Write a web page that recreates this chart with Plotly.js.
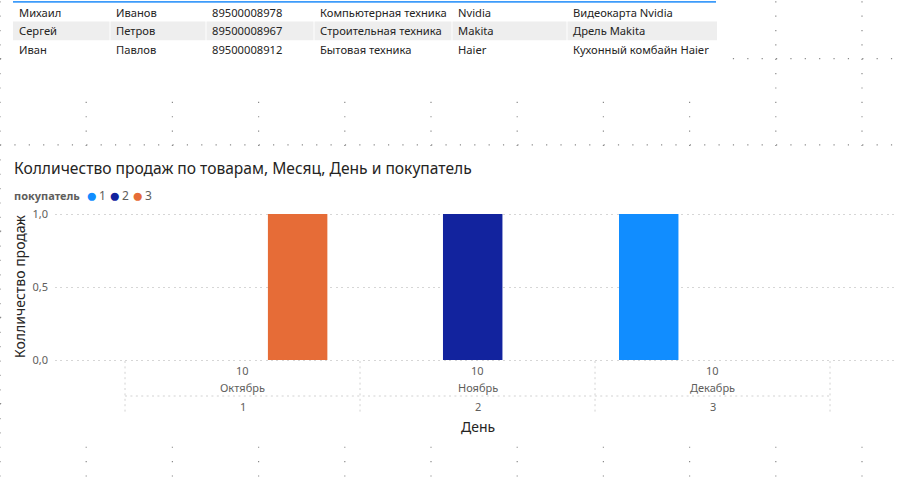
<!DOCTYPE html>
<html>
<head>
<meta charset="utf-8">
<script src="https://cdn.plot.ly/plotly-3.0.1.min.js"></script>
<style>
  html, body { margin: 0; padding: 0; background: #ffffff; }
  #chart { width: 897px; height: 482px; }
</style>
</head>
<body>
<div id="chart"></div>
<script>
// ---------- data ----------
const buyers = ['1', '2', '3'];
const buyerColors = ['#118DFF', '#12239E', '#E66C37'];
const dayLabels = ['10', '10', '10'];
const monthLabels = ['Октябрь', 'Ноябрь', 'Декабрь'];
const groupLabels = ['1', '2', '3'];
const salesBuyer1 = [null, null, 1];
const salesBuyer2 = [null, 1, null];
const salesBuyer3 = [1, null, null];
const yTickVals = [0, 0.5, 1];
const yTickText = ['0,0', '0,5', '1,0'];

const tableFirstNames = ['Михаил', 'Сергей', 'Иван'];
const tableLastNames = ['Иванов', 'Петров', 'Павлов'];
const tablePhones = ['89500008978', '89500008967', '89500008912'];
const tableCategories = ['Компьютерная техника', 'Строительная техника', 'Бытовая техника'];
const tableBrands = ['Nvidia', 'Makita', 'Haier'];
const tableProducts = ['Видеокарта Nvidia', 'Дрель Makita', 'Кухонный комбайн Haier'];

const chartTitle = 'Колличество продаж по товарам, Месяц, День и покупатель';
const legendTitle = 'покупатель';
const yTitle = 'Колличество продаж';
const xTitle = 'День';

// ---------- helpers ----------
const W = 897, H = 482;
const px = v => v / W;
const py = v => 1 - v / H;
const FONT = '"Segoe UI", "Noto Sans", sans-serif';

const xCats = monthLabels.map((_, i) => i + 1);
const seriesVals = [salesBuyer1, salesBuyer2, salesBuyer3];
const barWidth = 0.253;
const barOffsets = [-0.398, -0.147, 0.108];

const traces = seriesVals.map((vals, i) => ({
  type: 'bar',
  name: buyers[i],
  x: xCats,
  y: vals,
  width: barWidth,
  offset: barOffsets[i],
  marker: { color: buyerColors[i] },
  showlegend: false,
  hoverinfo: 'x+y+name'
}));

const shapes = [];
const annotations = [];

// ---------- background canvas dots ----------
const gridStep = 86.2;
const dotDash = '1.2px,' + (gridStep / 6 - 1.2).toFixed(2) + 'px';
for (let k = 0; k * gridStep <= W; k++) {
  shapes.push({ type: 'line', xref: 'paper', yref: 'paper', layer: 'below',
    x0: px(k * gridStep), x1: px(k * gridStep), y0: py(1.2), y1: 0,
    line: { color: '#8A8A8A', width: 1.2, dash: dotDash } });
}
for (let yy = 58.7; yy < H; yy += gridStep) {
  shapes.push({ type: 'line', xref: 'paper', yref: 'paper', layer: 'below',
    x0: 0, x1: 1, y0: py(yy), y1: py(yy),
    line: { color: '#8A8A8A', width: 1.2, dash: dotDash } });
}
// visual containers (white)
shapes.push({ type: 'rect', xref: 'paper', yref: 'paper', layer: 'below',
  x0: px(3), x1: px(728), y0: py(95), y1: py(0), fillcolor: '#FFFFFF', line: { width: 0 } });
shapes.push({ type: 'rect', xref: 'paper', yref: 'paper', layer: 'below',
  x0: px(3), x1: 1, y0: py(440), y1: py(150), fillcolor: '#FFFFFF', line: { width: 0 } });

// ---------- table ----------
const tableColumns = [tableFirstNames, tableLastNames, tablePhones, tableCategories, tableBrands, tableProducts];
const colLeft = [13, 110, 206, 314, 452, 567, 717];
const textPad = 4;
const rowTop = 3, rowH = 18.6;
tableFirstNames.forEach((_, r) => {
  if (r % 2 === 1) {
    for (let c = 0; c < tableColumns.length; c++) {
      shapes.push({ type: 'rect', xref: 'paper', yref: 'paper', layer: 'below',
        x0: px(colLeft[c] + (c ? 0.5 : 0)), x1: px(colLeft[c + 1] - (c < tableColumns.length - 1 ? 0.5 : 0)),
        y0: py(rowTop + (r + 1) * rowH), y1: py(rowTop + r * rowH),
        fillcolor: '#EEEEEE', line: { width: 0 } });
    }
  }
  tableColumns.forEach((col, c) => {
    annotations.push({ xref: 'paper', yref: 'paper', x: px(colLeft[c] + textPad), y: py(rowTop + (r + 0.5) * rowH),
      xanchor: 'left', yanchor: 'middle', text: col[r], showarrow: false,
      font: { family: FONT, size: 11.2, color: '#252423' } });
  });
});
shapes.push({ type: 'line', xref: 'paper', yref: 'paper',
  x0: px(13), x1: px(716), y0: py(1.8), y1: py(1.8),
  line: { color: '#3D9BFA', width: 1.8 } });

// hierarchical x-axis separators
const sepDash = '2px,3.4px';
const sepColor = '#D2D2D2';
for (let i = 0; i <= xCats.length; i++) {
  shapes.push({ type: 'line', xref: 'x', yref: 'paper',
    x0: i + 0.5, x1: i + 0.5, y0: py(361), y1: py(415),
    line: { color: sepColor, width: 1, dash: sepDash } });
}
shapes.push({ type: 'line', xref: 'x', yref: 'paper',
  x0: 0.5, x1: xCats.length + 0.5, y0: py(396), y1: py(396),
  line: { color: sepColor, width: 1, dash: sepDash } });

// ---------- chart annotations ----------
annotations.push({ xref: 'paper', yref: 'paper', x: px(12), y: py(168), xanchor: 'left', yanchor: 'middle',
  text: chartTitle, showarrow: false, font: { family: FONT, size: 15.6, color: '#252423' } });
annotations.push({ xref: 'paper', yref: 'paper', x: px(12), y: py(195), xanchor: 'left', yanchor: 'middle',
  text: '<b>' + legendTitle + '</b>', showarrow: false, font: { family: FONT, size: 11, color: '#605E5C' } });
buyers.forEach((b, i) => {
  annotations.push({ xref: 'paper', yref: 'paper', x: px(91.5 + i * 23), y: py(194.5), xanchor: 'center', yanchor: 'middle',
    text: '●', showarrow: false, font: { family: FONT, size: 19, color: buyerColors[i] } });
  annotations.push({ xref: 'paper', yref: 'paper', x: px(97 + i * 23), y: py(195), xanchor: 'left', yanchor: 'middle',
    text: b, showarrow: false, font: { family: FONT, size: 12, color: '#605E5C' } });
});
annotations.push({ xref: 'paper', yref: 'paper', x: px(19), y: py(287), xanchor: 'center', yanchor: 'middle',
  text: yTitle, textangle: -90, showarrow: false, font: { family: FONT, size: 14, color: '#252423' } });
xCats.forEach((xc, i) => {
  annotations.push({ xref: 'x', yref: 'paper', x: xc, y: py(370), xanchor: 'center', yanchor: 'middle',
    text: dayLabels[i], showarrow: false, font: { family: FONT, size: 11, color: '#605E5C' } });
  annotations.push({ xref: 'x', yref: 'paper', x: xc, y: py(387), xanchor: 'center', yanchor: 'middle',
    text: monthLabels[i], showarrow: false, font: { family: FONT, size: 11, color: '#605E5C' } });
  annotations.push({ xref: 'x', yref: 'paper', x: xc, y: py(406), xanchor: 'center', yanchor: 'middle',
    text: groupLabels[i], showarrow: false, font: { family: FONT, size: 11, color: '#605E5C' } });
});
annotations.push({ xref: 'x', yref: 'paper', x: (xCats.length + 1) / 2, y: py(426), xanchor: 'center', yanchor: 'middle',
  text: xTitle, showarrow: false, font: { family: FONT, size: 14, color: '#252423' } });

// ---------- layout ----------
const yPad = 0.03;
const layout = {
  width: W, height: H, autosize: false,
  margin: { l: 0, r: 0, t: 0, b: 0, pad: 0 },
  paper_bgcolor: '#FFFFFF',
  plot_bgcolor: 'rgba(0,0,0,0)',
  separators: ', ',
  barmode: 'overlay',
  showlegend: false,
  font: { family: FONT, color: '#605E5C' },
  xaxis: {
    domain: [px(55), 1],
    range: [0.202, 3.785],
    showgrid: false, zeroline: false, showline: false, showticklabels: false, ticks: '',
    fixedrange: true
  },
  yaxis: {
    domain: [py(360 + 146 * yPad), py(214 - 146 * yPad)],
    range: [-yPad, 1 + yPad],
    tickvals: yTickVals, ticktext: yTickText,
    showgrid: true, gridcolor: '#D6D6D6', griddash: '2px,3.4px', gridwidth: 1,
    zeroline: false, showline: false, ticks: '',
    ticklabelstandoff: 6,
    tickfont: { family: FONT, size: 11, color: '#605E5C' },
    fixedrange: true
  },
  shapes: shapes,
  annotations: annotations
};

Plotly.newPlot('chart', traces, layout, { displayModeBar: false, staticPlot: true });
</script>
</body>
</html>
